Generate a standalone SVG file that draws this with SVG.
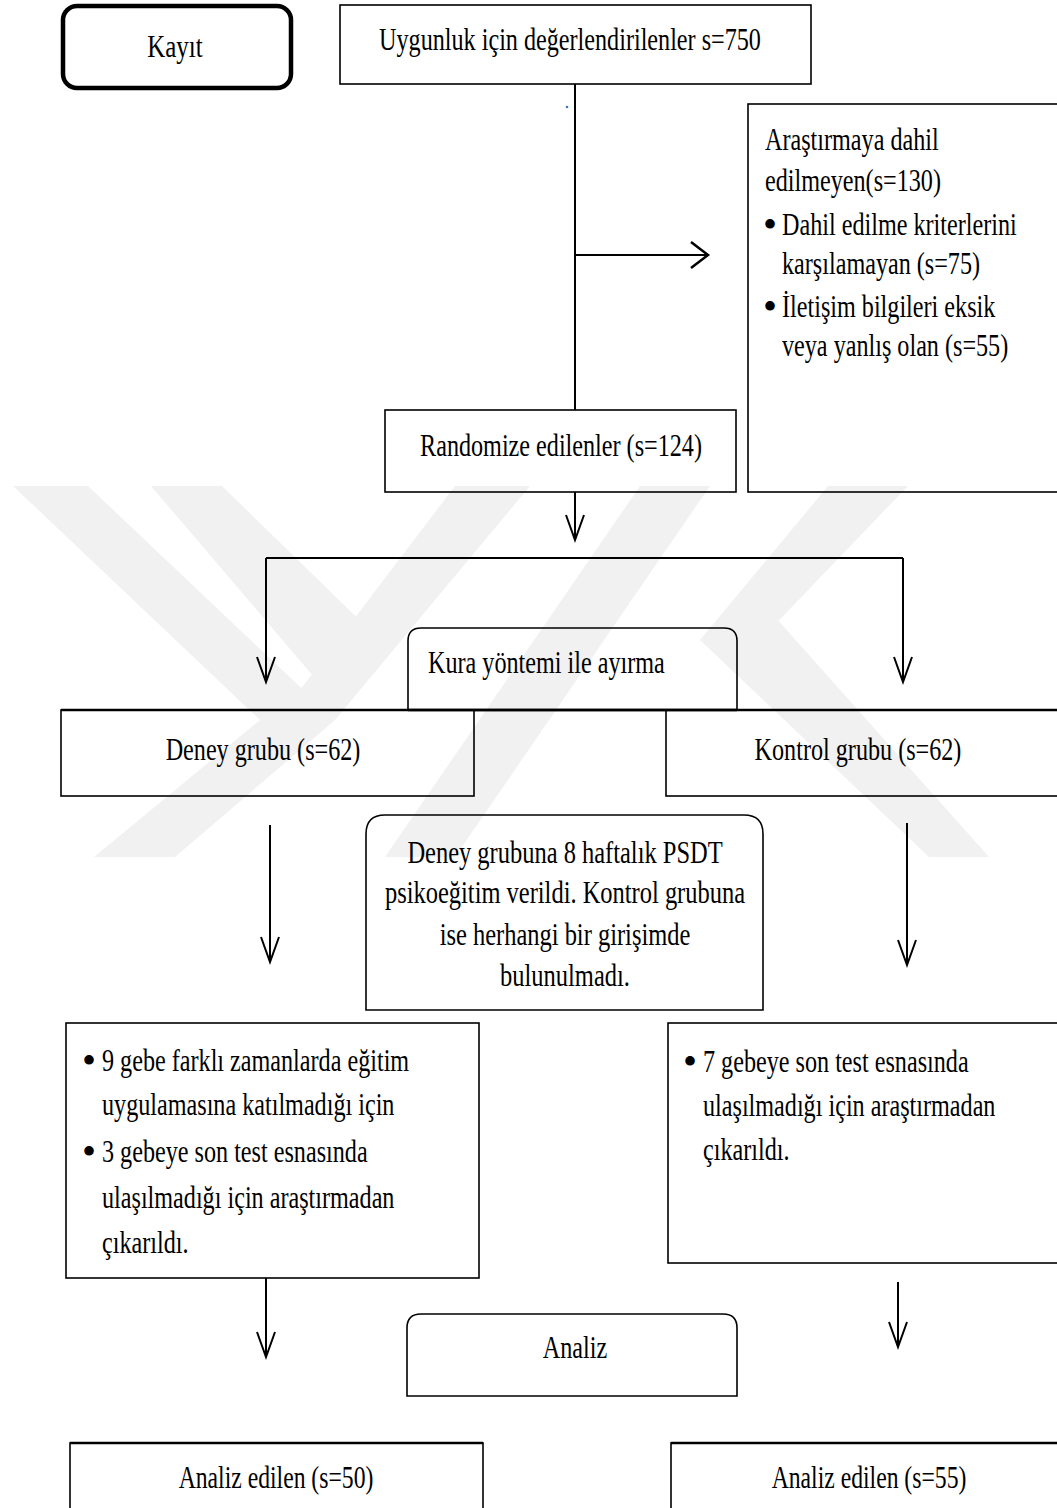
<svg xmlns="http://www.w3.org/2000/svg" width="1057" height="1508" viewBox="0 0 1057 1508">
<defs>
<style>
.bx{fill:none;stroke:#000;stroke-width:1.6}
.thick{fill:none;stroke:#000;stroke-width:2.6}
.t{font-family:"Liberation Serif","Times New Roman",serif;font-size:32px;fill:#000}
.c{text-anchor:middle}
.bul{font-family:"Liberation Serif","Times New Roman",serif;font-size:40px;fill:#000;text-anchor:middle}
.conn{fill:none;stroke:#000;stroke-width:2}
.wm{fill:#f1f1f1;stroke:none}
</style>
<marker id="arrV" markerUnits="userSpaceOnUse" viewBox="0 0 30 22" markerWidth="30" markerHeight="22" refX="26" refY="10" orient="auto">
<path d="M1,1 L26,10 L1,19" fill="none" stroke="#000" stroke-width="2"/>
</marker>
<marker id="arrH" markerUnits="userSpaceOnUse" viewBox="0 0 22 30" markerWidth="22" markerHeight="30" refX="18" refY="14" orient="auto">
<path d="M1,1 L18,14 L1,27" fill="none" stroke="#000" stroke-width="2.5"/>
</marker>
</defs>
<rect width="1057" height="1508" fill="#fff"/>
<g id="watermark">
<polygon class="wm" points="13,486 88,486 335,720 260,720"/>
<polygon class="wm" points="151,486 222,486 380,640 325,690"/>
<polygon class="wm" points="455,486 530,486 335,720 300,690"/>
<polygon class="wm" points="260,720 335,720 175,857 94,857"/>
<polygon class="wm" points="640,486 710,486 455,857 385,857"/>
<polygon class="wm" points="828,486 908,486 760,640 700,640"/>
<polygon class="wm" points="700,640 760,600 989,857 929,857"/>
</g>
<g id="connectors">
<path class="conn" d="M575,84 V410"/>
<path class="conn" d="M575,255 H708" stroke-width="2.5" marker-end="url(#arrH)"/>
<path class="conn" d="M575,492 V540" marker-end="url(#arrV)"/>
<path class="conn" d="M266,558 H903" stroke-width="3"/>
<path class="conn" d="M266,558 V682" marker-end="url(#arrV)"/>
<path class="conn" d="M903,558 V682" marker-end="url(#arrV)"/>
<path class="conn" d="M270,825 V962" marker-end="url(#arrV)"/>
<path class="conn" d="M907,823 V965" marker-end="url(#arrV)"/>
<path class="conn" d="M266,1278 V1357" marker-end="url(#arrV)"/>
<path class="conn" d="M898,1282 V1347" marker-end="url(#arrV)"/>
<circle cx="567" cy="107" r="1.3" fill="#4472c4"/>
</g>
<g id="kayit">
<rect x="63" y="6" width="228" height="82" rx="14" fill="#fff" stroke="#000" stroke-width="4.5"/>
<text class="t c" transform="translate(175,57) scale(0.78,1)">Kayıt</text>
</g>
<g id="uygunluk">
<rect class="bx" x="340" y="5" width="471" height="79"/>
<text class="t c" transform="translate(570,50) scale(0.755,1)">Uygunluk için değerlendirilenler s=750</text>
</g>
<g id="dahil-edilmeyen">
<rect class="bx" x="748" y="104" width="330" height="388"/>
<text class="t" transform="translate(765,150) scale(0.755,1)">Araştırmaya dahil</text>
<text class="t" transform="translate(765,191) scale(0.755,1)">edilmeyen(s=130)</text>
<text class="bul" x="770" y="238">•</text>
<text class="t" transform="translate(782,235) scale(0.755,1)">Dahil edilme kriterlerini</text>
<text class="t" transform="translate(782,274) scale(0.755,1)">karşılamayan (s=75)</text>
<text class="bul" x="770" y="320">•</text>
<text class="t" transform="translate(782,317) scale(0.755,1)">İletişim bilgileri eksik</text>
<text class="t" transform="translate(782,356) scale(0.755,1)">veya yanlış olan (s=55)</text>
</g>
<g id="randomize">
<rect class="bx" x="385" y="410" width="351" height="82"/>
<text class="t c" transform="translate(561,456) scale(0.755,1)">Randomize edilenler (s=124)</text>
</g>
<g id="kura">
<path class="bx" d="M408,710 V641 Q408,628 421,628 H724 Q737,628 737,641 V710"/>
<path class="thick" d="M408,710 H737"/>
<text class="t" transform="translate(428,673) scale(0.755,1)">Kura yöntemi ile ayırma</text>
</g>
<g id="deney">
<rect class="bx" x="61" y="710" width="413" height="86"/>
<path class="thick" d="M61,710 H474"/>
<text class="t c" transform="translate(263,760) scale(0.755,1)">Deney grubu (s=62)</text>
</g>
<g id="kontrol">
<rect class="bx" x="666" y="710" width="410" height="86"/>
<path class="thick" d="M474,710 H1057"/>
<text class="t c" transform="translate(858,760) scale(0.755,1)">Kontrol grubu (s=62)</text>
</g>
<g id="psikoegitim">
<path class="bx" d="M366,1010 V834 Q366,815 385,815 H744 Q763,815 763,834 V1010 Z" fill="#fff"/>
<text class="t c" transform="translate(565,863) scale(0.765,1)">Deney grubuna 8 haftalık PSDT</text>
<text class="t c" transform="translate(565,903) scale(0.765,1)">psikoeğitim verildi. Kontrol grubuna</text>
<text class="t c" transform="translate(565,945) scale(0.765,1)">ise herhangi bir girişimde</text>
<text class="t c" transform="translate(565,986) scale(0.765,1)">bulunulmadı.</text>
</g>
<g id="deney-cikarilan">
<rect class="bx" x="66" y="1023" width="413" height="255"/>
<text class="bul" x="89" y="1074">•</text>
<text class="t" transform="translate(102,1071) scale(0.755,1)">9 gebe farklı zamanlarda eğitim</text>
<text class="t" transform="translate(102,1115) scale(0.755,1)">uygulamasına katılmadığı için</text>
<text class="bul" x="89" y="1165">•</text>
<text class="t" transform="translate(102,1162) scale(0.755,1)">3 gebeye son test esnasında</text>
<text class="t" transform="translate(102,1208) scale(0.755,1)">ulaşılmadığı için araştırmadan</text>
<text class="t" transform="translate(102,1253) scale(0.755,1)">çıkarıldı.</text>
</g>
<g id="kontrol-cikarilan">
<rect class="bx" x="668" y="1023" width="410" height="240"/>
<text class="bul" x="690" y="1075">•</text>
<text class="t" transform="translate(703,1072) scale(0.755,1)">7 gebeye son test esnasında</text>
<text class="t" transform="translate(703,1116) scale(0.755,1)">ulaşılmadığı için araştırmadan</text>
<text class="t" transform="translate(703,1160) scale(0.755,1)">çıkarıldı.</text>
</g>
<g id="analiz">
<path class="bx" d="M407,1396 V1328 Q407,1314 421,1314 H723 Q737,1314 737,1328 V1396 Z"/>
<text class="t c" transform="translate(575,1358) scale(0.755,1)">Analiz</text>
</g>
<g id="analiz-deney">
<rect class="bx" x="70" y="1443" width="413" height="90"/>
<path class="thick" d="M70,1443 H483"/>
<text class="t c" transform="translate(276,1488) scale(0.74,1)">Analiz edilen (s=50)</text>
</g>
<g id="analiz-kontrol">
<rect class="bx" x="671" y="1443" width="410" height="90"/>
<path class="thick" d="M671,1443 H1057"/>
<text class="t c" transform="translate(869,1488) scale(0.74,1)">Analiz edilen (s=55)</text>
</g>
</svg>
